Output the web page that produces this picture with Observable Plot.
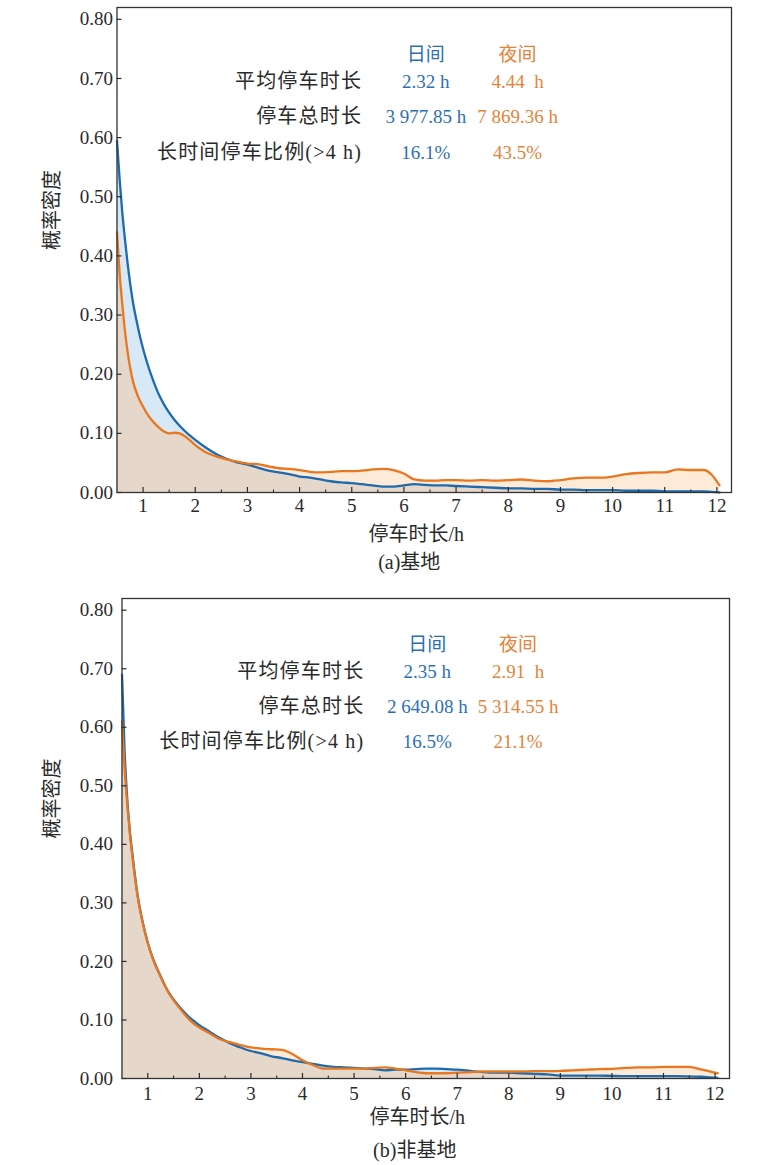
<!DOCTYPE html>
<html>
<head>
<meta charset="utf-8">
<script src="https://cdn.jsdelivr.net/npm/d3@7"></script>
<script src="https://cdn.jsdelivr.net/npm/@observablehq/plot@0.6"></script>
<style>
  body { margin: 0; background: #fff; }
  #wrap { position: relative; width: 757px; height: 1165px; overflow: hidden; background: #fff; }
  .panel { position: absolute; left: 0; }
</style>
</head>
<body>
<div id="wrap">
  <div id="a" class="panel" style="top:0px"></div>
  <div id="b" class="panel" style="top:591px"></div>
</div>
<script>
// ---------------- data ----------------
const hours = [0.5,0.55,0.6,0.65,0.7,0.8,0.9,
  1.0,1.1,1.2,1.3,1.4,1.5,1.6,1.7,1.8,1.9,2.0,
  2.2,2.4,2.6,2.8,3.0,3.2,3.4,3.6,3.8,4.0,4.2,4.4,4.6,4.8,5.0,5.2,5.4,5.6,5.8,6.0,6.2,6.4,6.6,6.8,7.0,
  7.25,7.5,7.75,8.0,8.25,8.5,8.75,9.0,9.25,9.5,9.75,10.0,10.25,10.5,10.75,11.0,11.25,11.5,11.75,
  11.9,12.05];

// (a) 基地
const baseDay = [0.595,0.53,0.475,0.43,0.39,0.325,0.28,
  0.243,0.213,0.188,0.166,0.149,0.135,0.123,0.113,0.104,0.096,0.089,
  0.076,0.065,0.057,0.051,0.047,0.042,0.037,0.034,0.031,0.027,0.025,0.022,0.019,0.017,0.016,0.014,0.012,0.010,0.010,0.012,0.014,0.013,0.012,0.012,0.011,
  0.010,0.009,0.008,0.007,0.007,0.006,0.006,0.005,0.005,0.004,0.004,0.004,0.003,0.003,0.003,0.002,0.002,0.002,0.002,
  0.001,0.0];
const baseNight = [0.44,0.37,0.32,0.275,0.24,0.19,0.163,
  0.145,0.13,0.119,0.11,0.103,0.100,0.101,0.100,0.095,0.088,0.080,
  0.068,0.061,0.056,0.052,0.049,0.048,0.044,0.041,0.040,0.038,0.035,0.034,0.035,0.036,0.036,0.037,0.039,0.040,0.038,0.032,0.022,0.020,0.020,0.021,0.021,
  0.020,0.021,0.020,0.021,0.022,0.020,0.019,0.021,0.024,0.025,0.025,0.027,0.031,0.033,0.034,0.034,0.039,0.038,0.038,
  0.030,0.012];

// (b) 非基地
const nonBaseDay = [0.69,0.56,0.48,0.425,0.385,0.315,0.268,
  0.232,0.205,0.184,0.165,0.148,0.135,0.124,0.114,0.105,0.098,0.091,
  0.080,0.069,0.060,0.053,0.047,0.043,0.038,0.035,0.031,0.028,0.025,0.022,0.020,0.019,0.018,0.017,0.016,0.014,0.015,0.015,0.016,0.017,0.017,0.016,0.015,
  0.013,0.011,0.010,0.010,0.009,0.008,0.007,0.005,0.005,0.005,0.005,0.0045,0.004,0.004,0.004,0.004,0.004,0.0035,0.003,
  0.002,0.001];
const nonBaseNight = [0.61,0.53,0.47,0.42,0.38,0.312,0.266,
  0.231,0.204,0.183,0.164,0.147,0.134,0.122,0.111,0.101,0.093,0.087,
  0.077,0.067,0.062,0.057,0.053,0.051,0.050,0.049,0.042,0.031,0.023,0.017,0.017,0.017,0.017,0.017,0.018,0.019,0.017,0.014,0.011,0.009,0.009,0.009,0.010,
  0.011,0.012,0.012,0.012,0.012,0.0125,0.0125,0.013,0.014,0.015,0.016,0.0165,0.018,0.019,0.019,0.020,0.020,0.020,0.015,
  0.012,0.009];

const xMajorTicks = [1,2,3,4,5,6,7,8,9,10,11,12];
const xMinorTicks = [1.5,2.5,3.5,4.5,5.5,6.5,7.5,8.5,9.5,10.5,11.5];
const yTicks = [0,0.1,0.2,0.3,0.4,0.5,0.6,0.7,0.8];

const seriesNames = ["日间", "夜间"];
const statLabels = ["平均停车时长", "停车总时长", "长时间停车比例(>4 h)"];
const baseDayStats = ["2.32 h", "3 977.85 h", "16.1%"];
const baseNightStats = ["4.44\u00a0\u00a0h", "7 869.36 h", "43.5%"];
const nonBaseDayStats = ["2.35 h", "2 649.08 h", "16.5%"];
const nonBaseNightStats = ["2.91\u00a0\u00a0h", "5 314.55 h", "21.1%"];

const xTitle = "停车时长/h";
const yTitle = "概率密度";

// ---------------- styling ----------------
const BLUE = "#1d6aad", ORANGE = "#e8771f";
const BLUE_TXT = "#2d6fb5", ORANGE_TXT = "#e7823a";
const FILL_BLUE = "#d7e8f6", FILL_ORANGE = "#fdebd8", FILL_BOTH = "#e5d8ca";
const SERIF = "'Liberation Serif', 'Noto Sans CJK SC', serif";
const CJK = "'Liberation Serif', 'Noto Sans CJK SC', sans-serif";
const TXT = "#2a2a2a";

// layout of annotation table in data coordinates
const labelX = 5.2, dayX = 6.42, nightX = 8.18;
const headerY = 0.74, rowY = [0.695, 0.635, 0.575];

function chart(el, day, night, dayStats, nightStats, caption, L) {
  const rows = hours.map((h, i) => ({h, day: day[i], night: night[i], low: Math.min(day[i], night[i])}));
  const plotW = 757 - L.marginLeft - L.marginRight;
  const plotH = L.height - L.marginTop - L.marginBottom;
  const svg = Plot.plot({
    width: 757,
    height: L.height,
    marginLeft: L.marginLeft,
    marginRight: L.marginRight,
    marginTop: L.marginTop,
    marginBottom: L.marginBottom,
    x: {domain: [0.5, 12.28], label: null},
    y: {domain: [0, 0.82], label: null},
    style: {fontFamily: SERIF, fontSize: "19px", color: TXT, background: "#fff", overflow: "visible"},
    marks: [
      Plot.areaY(rows, {x: "h", y: "day", fill: FILL_BLUE, curve: "monotone-x"}),
      Plot.areaY(rows, {x: "h", y: "night", fill: FILL_ORANGE, curve: "monotone-x"}),
      Plot.areaY(rows, {x: "h", y: "low", fill: FILL_BOTH, curve: "monotone-x"}),
      Plot.lineY(rows, {x: "h", y: "day", stroke: BLUE, strokeWidth: 2.3, curve: "monotone-x"}),
      Plot.lineY(rows, {x: "h", y: "night", stroke: ORANGE, strokeWidth: 2.3, curve: "monotone-x"}),
      // inward ticks
      Plot.ruleX(xMajorTicks, {x: d => d, insetTop: plotH - 5, stroke: TXT, strokeWidth: 1.2}),
      Plot.ruleX(xMinorTicks, {x: d => d, insetTop: plotH - 2.5, stroke: TXT, strokeWidth: 1.1}),
      Plot.ruleY(yTicks, {y: d => d, insetRight: plotW - 5, stroke: TXT, strokeWidth: 1.2}),
      Plot.frame({stroke: "#333", strokeWidth: 1.3}),
      Plot.axisX(xMajorTicks, {tickSize: 0, tickPadding: L.xPad, fontSize: 19, fontFamily: SERIF, label: null}),
      Plot.axisY(yTicks, {tickSize: 0, tickPadding: L.yPad, fontSize: 19, fontFamily: SERIF, tickFormat: d3.format(".2f"), label: null}),
      // axis titles and caption
      Plot.text([yTitle], {frameAnchor: "left", text: d => d, rotate: -90, dx: L.yTitleDx, lineAnchor: "middle", fontSize: 20, fontFamily: CJK, fill: TXT}),
      Plot.text([xTitle], {frameAnchor: "bottom", text: d => d, dx: L.titleDx, dy: L.titleDy, lineAnchor: "middle", fontSize: 20, fontFamily: CJK, fill: TXT}),
      Plot.text([caption], {frameAnchor: "bottom", text: d => d, dx: L.capDx, dy: L.capDy, lineAnchor: "middle", fontSize: 20, fontFamily: CJK, fill: TXT}),
      // annotation table
      Plot.text(seriesNames, {x: (d, i) => i === 0 ? dayX : nightX, y: () => headerY, text: d => d, fontSize: 19, fontFamily: CJK, fill: (d, i) => i === 0 ? BLUE_TXT : ORANGE_TXT}),
      Plot.text(statLabels, {x: () => labelX, y: (d, i) => rowY[i], text: d => d, textAnchor: "end", fontSize: 20, fontFamily: CJK, fill: TXT}),
      Plot.text(dayStats, {x: () => dayX, y: (d, i) => rowY[i], text: d => d, fontSize: 19, fontFamily: SERIF, fill: BLUE_TXT}),
      Plot.text(nightStats, {x: () => nightX, y: (d, i) => rowY[i], text: d => d, fontSize: 19, fontFamily: SERIF, fill: ORANGE_TXT})
    ]
  });
  d3.select(svg).selectAll("text")
    .filter(function () { return statLabels.includes(this.textContent); })
    .attr("letter-spacing", "1.2px");
  document.getElementById(el).appendChild(svg);
}

chart("a", baseDay, baseNight, baseDayStats, baseNightStats, "(a)基地", {
  height: 580, marginTop: 7, marginBottom: 88, marginLeft: 116.5, marginRight: 26,
  xPad: 6, yPad: 4, yTitleDx: -64, titleDx: -8, titleDy: 42, capDx: -15, capDy: 70
});
chart("b", nonBaseDay, nonBaseNight, nonBaseDayStats, nonBaseNightStats, "(b)非基地", {
  height: 574, marginTop: 7, marginBottom: 87, marginLeft: 121.5, marginRight: 28,
  xPad: 8, yPad: 9, yTitleDx: -69, titleDx: -8.5, titleDy: 39, capDx: -11, capDy: 72
});
</script>
</body>
</html>
